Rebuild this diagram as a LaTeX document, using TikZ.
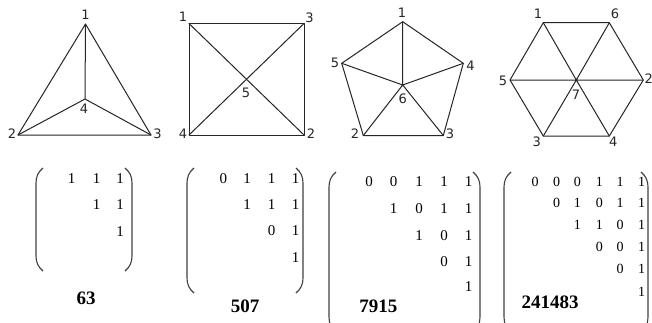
\documentclass[tikz,border=0pt]{standalone}
\usepackage{fontspec}
\setmainfont{Liberation Serif}
\newfontfamily\labfont{DejaVu Sans}
\tikzset{
  edge/.style={draw=black!85, line width=1pt, line cap=round, line join=round},
  vlab/.style={font=\labfont\fontsize{13}{13}\selectfont, inner sep=0pt, text=black!85},
  ent/.style={font=\fontsize{15}{15}\selectfont, inner sep=0pt},
  entsm/.style={font=\fontsize{14}{14}\selectfont, inner sep=0pt},
  num/.style={font=\bfseries\fontsize{19}{19}\selectfont, inner sep=0pt},
  paren/.style={draw=black!75, line width=1.1pt},
}
\newcommand\MyLP[3]{\draw[paren] ({#1+7},{#2}) .. controls ({#1+2},{#2+4}) and ({#1},{#2+9}) .. ({#1},{#2+15}) -- ({#1},{#3-15}) .. controls ({#1},{#3-9}) and ({#1+2},{#3-4}) .. ({#1+7},{#3});}
\newcommand\MyRP[3]{\draw[paren] ({#1-7},{#2}) .. controls ({#1-2},{#2+4}) and ({#1},{#2+9}) .. ({#1},{#2+15}) -- ({#1},{#3-15}) .. controls ({#1},{#3-9}) and ({#1-2},{#3-4}) .. ({#1-7},{#3});}
\begin{document}
\begin{tikzpicture}[x=1pt,y=-1pt]
\useasboundingbox (0,0) rectangle (652,322);
\clip (0,0) rectangle (652,322);
\fill[white] (0,0) rectangle (652,322);

% ---- graph 1: triangle
\coordinate (a1) at (85.5,24);
\coordinate (a2) at (18,135);
\coordinate (a3) at (151,135);
\coordinate (a4) at (85,99);
\draw[edge] (a1) -- (a2) -- (a3) -- cycle;
\draw[edge] (a1) -- (a4) (a2) -- (a4) (a3) -- (a4);
\node[vlab] (la1) at (85.5,14.5) {1};
\node[vlab] (la2) at (12,133.5) {2};
\node[vlab] (la3) at (157.5,134) {3};
\node[vlab] (la4) at (84,108.5) {4};

% ---- graph 2: square
\coordinate (b1) at (189,23.5);
\coordinate (b3) at (304,23.5);
\coordinate (b2) at (304,135);
\coordinate (b4) at (189,135);
\coordinate (b5) at (246.5,79.25);
\draw[edge] (b1) -- (b3) -- (b2) -- (b4) -- cycle;
\draw[edge] (b1) -- (b5) -- (b2) (b3) -- (b5) -- (b4);
\node[vlab] (lb1) at (183,17) {1};
\node[vlab] (lb3) at (309.5,18) {3};
\node[vlab] (lb4) at (183,134) {4};
\node[vlab] (lb2) at (311,134) {2};
\node[vlab] (lb5) at (246,92.5) {5};

% ---- graph 3: pentagon
\coordinate (c1) at (402.7,21.7);
\coordinate (c4) at (463.3,63.3);
\coordinate (c3) at (443.3,135.5);
\coordinate (c2) at (363.3,135.5);
\coordinate (c5) at (341.7,63.3);
\coordinate (c6) at (402.7,85);
\draw[edge] (c1) -- (c4) -- (c3) -- (c2) -- (c5) -- cycle;
\draw[edge] (c6) -- (c1) (c6) -- (c2) (c6) -- (c3) (c6) -- (c4) (c6) -- (c5);
\node[vlab] (lc1) at (402,13) {1};
\node[vlab] (lc5) at (335,63) {5};
\node[vlab] (lc4) at (470.5,66) {4};
\node[vlab] (lc2) at (355,134) {2};
\node[vlab] (lc3) at (450,134) {3};
\node[vlab] (lc6) at (402.7,98.3) {6};

% ---- graph 4: hexagon
\coordinate (d1) at (543.3,22.7);
\coordinate (d6) at (609.3,22.7);
\coordinate (d2) at (643.3,80);
\coordinate (d4) at (609.3,136);
\coordinate (d3) at (543.3,136);
\coordinate (d5) at (510,80);
\coordinate (d7) at (576.3,80);
\draw[edge] (d1) -- (d6) -- (d2) -- (d4) -- (d3) -- (d5) -- cycle;
\draw[edge] (d1) -- (d7) -- (d4) (d6) -- (d7) -- (d3) (d5) -- (d7) -- (d2);
\node[vlab] (ld1) at (538,14) {1};
\node[vlab] (ld6) at (615,14) {6};
\node[vlab] (ld5) at (503,80.5) {5};
\node[vlab] (ld2) at (648.8,79) {2};
\node[vlab] (ld7) at (576,95) {7};
\node[vlab] (ld3) at (536.7,141.7) {3};
\node[vlab] (ld4) at (613.3,141.7) {4};

% ---- matrix 1
\MyLP{36}{168}{271}
\MyRP{132}{168}{271}
\foreach \n/\x/\y/\v in {m1a/71.7/178.7/1, m1b/96.7/178.7/1, m1c/120/178.7/1,
  m1d/96.7/205/1, m1e/120/205/1, m1f/120/231.7/1}
  \node[ent] (\n) at (\x,\y) {\v};
\node[num] (n1) at (86,298.7) {63};

% ---- matrix 2
\MyLP{187}{168}{293}
\MyRP{303}{168}{293}
\foreach \n/\x/\y/\v in {m2a/223.3/178.5/0, m2b/247/178.5/1, m2c/271.5/178.5/1, m2d/295.5/178.5/1,
  m2e/247/205/1, m2f/271.5/205/1, m2g/295.5/205/1,
  m2h/271.5/231/0, m2i/295.5/231/1,
  m2j/295.5/258/1}
  \node[ent] (\n) at (\x,\y) {\v};
\node[num] (n2) at (245,306.7) {507};

% ---- matrix 3
\MyLP{329}{172}{332}
\MyRP{480}{172}{332}
\foreach \n/\x/\y/\v in {m3a/369/182/0, m3b/393.5/182/0, m3c/419/182/1, m3d/444/182/1, m3e/468.5/182/1,
  m3f/393.5/209/1, m3g/419/209/0, m3h/444/209/1, m3i/468.5/209/1,
  m3j/419/236/1, m3k/444/236/0, m3l/468.5/236/1,
  m3m/444/262/0, m3n/468.5/262/1,
  m3o/468.5/287/1}
  \node[ent] (\n) at (\x,\y) {\v};
\node[num] (n3) at (378.3,305.8) {7915};

% ---- matrix 4
\MyLP{504}{172}{332}
\MyRP{648}{172}{332}
\foreach \n/\x/\y/\v in {m4a/535/181.7/0, m4b/556.7/181.7/0, m4c/577.3/181.7/0, m4d/599.3/181.7/1, m4e/620/181.7/1, m4f/641.5/181.7/1,
  m4g/556.7/203.3/0, m4h/577.3/203.3/1, m4i/599.3/203.3/0, m4j/620/203.3/1, m4k/641.5/203.3/1,
  m4l/577.3/225/1, m4m/599.3/225/1, m4n/620/225/0, m4o/641.5/225/1,
  m4p/599.3/247/0, m4q/620/247/0, m4r/641.5/247/1,
  m4s/620/268.5/0, m4t/641.5/268.5/1,
  m4u/641.5/291.5/1}
  \node[entsm] (\n) at (\x,\y) {\v};
\node[num] (n4) at (550,302.5) {241483};
\end{tikzpicture}
\end{document}
